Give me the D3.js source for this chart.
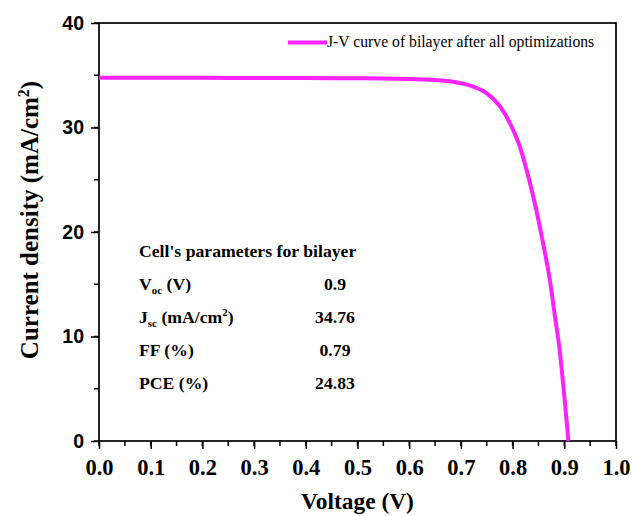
<!DOCTYPE html>
<html>
	<head>
		<script src="https://d3js.org/d3.v7.min.js"></script>
		<style>
			body { margin: 0; background: #fff; }
		</style>
	</head>
	<body>
		<script>
			// J-V curve
			var voltage = [0, 0.1, 0.2, 0.3, 0.4, 0.5, 0.55, 0.6, 0.65, 0.685, 0.718, 0.75, 0.776, 0.795, 0.814, 0.827, 0.84, 0.859, 0.872, 0.882, 0.891, 0.9, 0.908];
			var current = [34.76, 34.76, 34.75, 34.74, 34.73, 34.71, 34.69, 34.63, 34.55, 34.38, 34.0, 33.27, 31.99, 30.4, 28.16, 25.93, 23.38, 18.92, 15.41, 11.89, 8.71, 4.3, 0];

			var xTicks = [0, 0.1, 0.2, 0.3, 0.4, 0.5, 0.6, 0.7, 0.8, 0.9, 1.0];
			var yTicks = [0, 10, 20, 30, 40];
			var legendLabel = "J-V curve of bilayer after all optimizations";

			var paramTitle = "Cell's parameters for bilayer";
			var paramNames = [["V", "oc", " (V)"], ["J", "sc", " (mA/cm", "2", ")"], ["FF (%)"], ["PCE (%)"]];
			var paramValues = ["0.9", "34.76", "0.79", "24.83"];

			var width = 633, height = 516;
			var pl = 99, pr = 616, pt = 23, pb = 441;
			var color = "#ff22ff";
			var serif = "'Liberation Serif', 'Times New Roman', serif";
			var sans = "'Liberation Sans', Arial, sans-serif";

			var svg = d3.select('body').append('svg')
				.attr('width', width)
				.attr('height', height);

			var x = d3.scaleLinear().domain([0, 1]).range([pl, pr]);
			var y = d3.scaleLinear().domain([0, 40]).range([pb, pt]);

			// frame
			svg.append('rect')
				.attr('x', pl).attr('y', pt)
				.attr('width', pr - pl).attr('height', pb - pt)
				.attr('fill', 'none').attr('stroke', '#000').attr('stroke-width', 1.7);

			// minor ticks
			var xMinor = d3.range(0, 1.001, 0.05);
			svg.selectAll('.xminor').data(xMinor).enter().append('line')
				.attr('x1', function (d) { return x(d); }).attr('x2', function (d) { return x(d); })
				.attr('y1', pb).attr('y2', pb + 5)
				.attr('stroke', '#000').attr('stroke-width', 1.5);
			var yMinor = d3.range(0, 40.1, 5);
			svg.selectAll('.yminor').data(yMinor).enter().append('line')
				.attr('y1', function (d) { return y(d); }).attr('y2', function (d) { return y(d); })
				.attr('x1', pl).attr('x2', pl - 5)
				.attr('stroke', '#000').attr('stroke-width', 1.5);

			var xAxis = svg.append('g')
				.attr('transform', 'translate(0,' + pb + ')')
				.call(d3.axisBottom(x).tickValues(xTicks).tickSize(8).tickPadding(10).tickFormat(d3.format('.1f')));
			xAxis.select('.domain').remove();
			xAxis.selectAll('line').attr('stroke-width', 1.5);
			xAxis.selectAll('text')
				.attr('font-family', serif).attr('font-weight', 'bold').attr('font-size', 22.5).attr('fill', '#000');

			var yAxis = svg.append('g')
				.attr('transform', 'translate(' + pl + ',0)')
				.call(d3.axisLeft(y).tickValues(yTicks).tickSize(8).tickPadding(7));
			yAxis.select('.domain').remove();
			yAxis.selectAll('line').attr('stroke-width', 1.5);
			yAxis.selectAll('text')
				.attr('font-family', sans).attr('font-weight', 'bold').attr('font-size', 19.5).attr('fill', '#000');

			// axis titles
			svg.append('text')
				.attr('x', (pl + pr) / 2).attr('y', 509)
				.attr('text-anchor', 'middle')
				.attr('font-family', serif).attr('font-weight', 'bold').attr('font-size', 23.4)
				.text('Voltage (V)');

			var yt = svg.append('text')
				.attr('transform', 'translate(38,220) rotate(-90)')
				.attr('text-anchor', 'middle')
				.attr('font-family', serif).attr('font-weight', 'bold').attr('font-size', 25);
			yt.append('tspan').text('Current density (mA/cm');
			yt.append('tspan').attr('dy', -9).attr('font-size', 16).text('2');
			yt.append('tspan').attr('dy', 9).text(')');

			// curve
			var pts = voltage.map(function (v, i) { return [v, current[i]]; });
			var line = d3.line()
				.x(function (d) { return x(d[0]); })
				.y(function (d) { return y(d[1]); })
				.curve(d3.curveMonotoneX);
			svg.append('path')
				.datum(pts)
				.attr('d', line)
				.attr('fill', 'none').attr('stroke', color).attr('stroke-width', 4);

			// legend
			svg.append('line')
				.attr('x1', 288).attr('x2', 327).attr('y1', 42.5).attr('y2', 42.5)
				.attr('stroke', color).attr('stroke-width', 4);
			svg.append('text')
				.attr('x', 327).attr('y', 47)
				.attr('font-family', serif).attr('font-size', 15.7)
				.text(legendLabel);

			// parameter table
			var tx = 139, valX = 335;
			svg.append('text')
				.attr('x', tx).attr('y', 257)
				.attr('font-family', serif).attr('font-weight', 'bold').attr('font-size', 17.7)
				.text(paramTitle);
			var rowY = [290, 323, 356, 389];
			paramNames.forEach(function (p, i) {
				var t = svg.append('text')
					.attr('x', tx).attr('y', rowY[i])
					.attr('font-family', serif).attr('font-weight', 'bold').attr('font-size', 17.7);
				if (p.length == 1) {
					t.text(p[0]);
				} else {
					t.append('tspan').text(p[0]);
					t.append('tspan').attr('dy', 4).attr('font-size', 11).text(p[1]);
					t.append('tspan').attr('dy', -4).text(p[2]);
					if (p.length > 4) {
						t.append('tspan').attr('dy', -7).attr('font-size', 11).text(p[3]);
						t.append('tspan').attr('dy', 7).text(p[4]);
					}
				}
				svg.append('text')
					.attr('x', valX).attr('y', rowY[i])
					.attr('text-anchor', 'middle')
					.attr('font-family', serif).attr('font-weight', 'bold').attr('font-size', 17.7)
					.text(paramValues[i]);
			});
		</script>
	</body>
</html>
